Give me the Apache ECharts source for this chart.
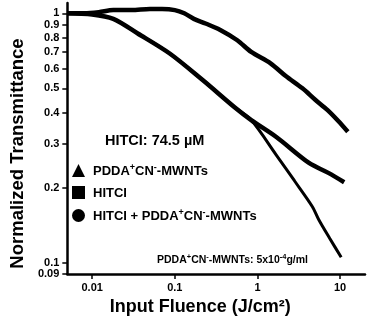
<!DOCTYPE html>
<html>
<head>
<meta charset="utf-8">
<script src="https://cdn.jsdelivr.net/npm/echarts@6/dist/echarts.min.js"></script>
<style>
html,body{margin:0;padding:0;background:#fff;}
#c{width:368px;height:323px;}
</style>
</head>
<body>
<div id="c"></div>
<script>
// ---- data ----
var xTickValues = [0.01, 0.1, 1, 10];
var xTickLabels = ['0.01', '0.1', '1', '10'];
var yTickValues = [1, 0.9, 0.8, 0.7, 0.6, 0.5, 0.4, 0.3, 0.2, 0.1, 0.09];
var yTickLabels = ['1', '0.9', '0.8', '0.7', '0.6', '0.5', '0.4', '0.3', '0.2', '0.1', '0.09'];

var seriesNames = ['PDDA+CN--MWNTs', 'HITCI', 'HITCI + PDDA+CN--MWNTs'];

var mwntX = [0.005, 0.008, 0.012, 0.018, 0.03, 0.05, 0.07, 0.1, 0.13, 0.17, 0.235, 0.35, 0.57, 0.84, 1.44, 2.2, 3.5, 5.0, 7.0, 9.5, 12.4];
var mwntY = [1.0, 1.0, 1.01, 1.03, 1.03, 1.04, 1.04, 1.03, 1.0, 0.95, 0.91, 0.86, 0.78, 0.70, 0.63, 0.56, 0.50, 0.45, 0.41, 0.37, 0.335];

var hitciX = [0.005, 0.01, 0.018, 0.0356, 0.0867, 0.217, 0.528, 0.84, 1.69, 4.2, 7.2, 11.2];
var hitciY = [1.0, 0.99, 0.95, 0.83, 0.69, 0.54, 0.42, 0.373, 0.319, 0.251, 0.229, 0.21];

var mixX = [0.005, 0.01, 0.018, 0.0356, 0.0867, 0.217, 0.528, 0.84, 1.69, 2.8, 4.6, 5.5, 7.5, 10.3];
var mixY = [1.0, 0.99, 0.95, 0.83, 0.69, 0.54, 0.42, 0.373, 0.27, 0.213, 0.168, 0.149, 0.125, 0.105];

var concText = 'HITCI: 74.5 \u00B5M';

function zip(xs, ys) { return xs.map(function (x, i) { return [x, ys[i]]; }); }

var FONT = '"Liberation Sans", Arial, Helvetica, sans-serif';
var supRich = {
  n: { fontFamily: FONT, fontWeight: 'bold', fontSize: 13, color: '#000', lineHeight: 15, verticalAlign: 'bottom' },
  s: { fontFamily: FONT, fontWeight: 'bold', fontSize: 9, color: '#000', lineHeight: 8, verticalAlign: 'top' },
  m: { fontFamily: FONT, fontWeight: 'bold', fontSize: 10.5, color: '#000', lineHeight: 13, verticalAlign: 'bottom' },
  ms: { fontFamily: FONT, fontWeight: 'bold', fontSize: 7.5, color: '#000', lineHeight: 7, verticalAlign: 'top' }
};
function richName(name) {
  if (name === seriesNames[0]) return '{n|PDDA}{s|+}{n|CN}{s|-}{n|-MWNTs}';
  if (name === seriesNames[2]) return '{n|HITCI + PDDA}{s|+}{n|CN}{s|-}{n|-MWNTs}';
  return '{n|' + name + '}';
}
function labelFor(values, labels) {
  return function (v) {
    for (var i = 0; i < values.length; i++) { if (Math.abs(values[i] - v) / values[i] < 1e-6) return labels[i]; }
    return '';
  };
}

var chart = echarts.init(document.getElementById('c'), null, { renderer: 'canvas' });
var option = {
  animation: false,
  backgroundColor: '#fff',
  textStyle: { fontFamily: FONT },
  grid: { left: 58, right: 3, top: 3, bottom: 49, containLabel: false },
  title: [
    { text: concText, left: 100, top: 128, textStyle: { fontFamily: FONT, fontWeight: 'bold', fontSize: 14.5, color: '#000' } },
    { text: '{m|PDDA}{ms|+}{m|CN}{ms|-}{m|-MWNTs: 5x10}{ms|-4}{m|g/ml}', left: 152, top: 248,
      textStyle: { rich: supRich } }
  ],
  legend: {
    orient: 'vertical', left: 67, top: 158, itemGap: 8, itemWidth: 13, itemHeight: 13,
    selectedMode: false,
    data: [
      { name: seriesNames[0], icon: 'triangle' },
      { name: seriesNames[1], icon: 'rect' },
      { name: seriesNames[2], icon: 'circle' }
    ],
    formatter: richName,
    textStyle: { rich: supRich, padding: [0, 0, 0, 3] }
  },
  xAxis: {
    type: 'log', logBase: 10, min: 0.005, max: 20,
    name: 'Input Fluence (J/cm\u00B2)', nameLocation: 'middle', nameGap: 24,
    nameTextStyle: { fontFamily: FONT, fontWeight: 'bold', fontSize: 18, color: '#000', padding: [0, 32, 0, 0] },
    axisLine: { show: true, onZero: false, lineStyle: { color: '#000', width: 2.5 } },
    axisTick: { show: true, inside: false, length: 5, lineStyle: { color: '#000', width: 1.5 }, customValues: xTickValues },
    axisLabel: { show: true, margin: 8, fontFamily: FONT, fontWeight: 'bold', fontSize: 11, color: '#000',
      customValues: xTickValues, formatter: labelFor(xTickValues, xTickLabels) },
    splitLine: { show: false }
  },
  yAxis: {
    type: 'log', logBase: 10, min: 0.09, max: 1.1,
    name: 'Normalized Transmittance', nameLocation: 'middle', nameGap: 33, nameRotate: 90,
    nameTextStyle: { fontFamily: FONT, fontWeight: 'bold', fontSize: 18.5, color: '#000', padding: [0, 30, 0, 0] },
    axisLine: { show: true, onZero: false, lineStyle: { color: '#000', width: 2.5 } },
    axisTick: { show: true, inside: false, length: 5, lineStyle: { color: '#000', width: 1.5 }, customValues: yTickValues },
    axisLabel: { show: true, margin: 8, fontFamily: FONT, fontWeight: 'bold', fontSize: 11, color: '#000', lineHeight: 11,
      customValues: yTickValues, formatter: labelFor(yTickValues, yTickLabels) },
    splitLine: { show: false }
  },
  series: [
    { name: seriesNames[0], type: 'line', data: zip(mwntX, mwntY), smooth: 0.3, showSymbol: false, symbol: 'triangle',
      itemStyle: { color: '#000' }, lineStyle: { color: '#000', width: 4.5 } },
    { name: seriesNames[1], type: 'line', data: zip(hitciX, hitciY), smooth: 0.3, showSymbol: false, symbol: 'rect',
      itemStyle: { color: '#000' }, lineStyle: { color: '#000', width: 4.5 } },
    { name: seriesNames[2], type: 'line', data: zip(mixX, mixY), smooth: 0.3, showSymbol: false, symbol: 'circle',
      itemStyle: { color: '#000' }, lineStyle: { color: '#000', width: 3 } }
  ]
};
chart.setOption(option);
</script>
</body>
</html>
